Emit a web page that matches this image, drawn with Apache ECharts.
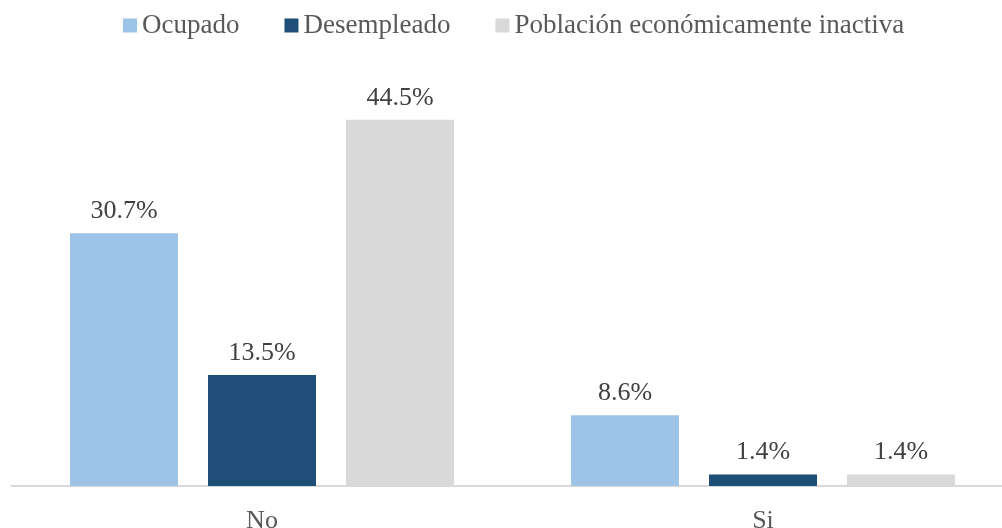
<!DOCTYPE html>
<html><head><meta charset="utf-8">
<script src="https://cdn.jsdelivr.net/npm/echarts@6/dist/echarts.min.js"></script>
<style>html,body{margin:0;padding:0;background:#fff}#c{width:1002px;height:528px}</style>
</head><body><div id="c"></div>
<script>
const categories = ['No', 'Si'];
const seriesNames = ['Ocupado', 'Desempleado', 'Población económicamente inactiva'];
const ocupado = [30.7, 8.6];
const desempleado = [13.5, 1.4];
const inactiva = [44.5, 1.4];
const colors = ['#9DC3E6', '#1F4E79', '#D9D9D9'];
const values = [ocupado, desempleado, inactiva];
const font = '"Liberation Serif", "Times New Roman", serif';

const chart = echarts.init(document.getElementById('c'), null, {renderer: 'canvas'});
chart.setOption({
  animation: false,
  textStyle: {fontFamily: font},
  legend: {
    top: 7, left: 118,
    itemWidth: 14, itemHeight: 14, itemGap: 45,
    icon: 'rect',
    textStyle: {fontFamily: font, fontSize: 27, color: '#595959'},
    data: seriesNames
  },
  grid: {left: 11.5, width: 1002, top: 74.5, bottom: 42, containLabel: false, outerBoundsMode: 'none'},
  xAxis: {
    type: 'category', data: categories,
    axisLine: {lineStyle: {color: '#D9D9D9', width: 2}},
    axisTick: {show: false},
    axisLabel: {fontFamily: font, fontSize: 26, color: '#595959', margin: 22}
  },
  yAxis: {type: 'value', min: 0, max: 50, show: false, splitLine: {show: false}},
  series: values.map((v, i) => ({
    name: seriesNames[i], type: 'bar', data: v,
    barWidth: 108, barGap: '27.8%',
    itemStyle: {color: colors[i]},
    label: {show: true, position: 'top', distance: 9, fontFamily: font, fontSize: 26, color: '#404040',
      formatter: p => p.value.toFixed(1) + '%'}
  }))
});
</script></body></html>
